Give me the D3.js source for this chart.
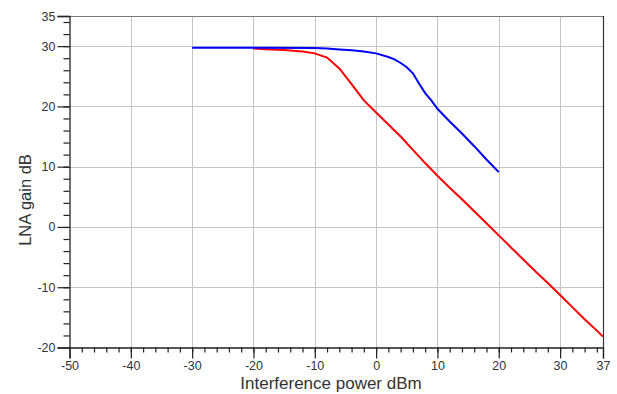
<!DOCTYPE html>
<html>
<head>
<meta charset="utf-8">
<script src="https://cdn.jsdelivr.net/npm/d3@7"></script>
<style>
  body { margin: 0; background: #fff; }
  svg { display: block; font-family: "Liberation Sans", Arial, sans-serif; }
</style>
</head>
<body>
<svg id="chart" width="617" height="394"></svg>
<script>
// interference power (dBm) vs LNA gain (dB)
const blueX = [-30, -20, -10, -8, -6, -4, -2, 0, 2, 3, 4, 5, 6, 7, 8, 9, 10, 12, 14, 16, 18, 20];
const blueY = [29.75, 29.75, 29.7, 29.6, 29.45, 29.3, 29.1, 28.8, 28.2, 27.8, 27.2, 26.5, 25.5, 23.8, 22.2, 21.0, 19.6, 17.5, 15.5, 13.4, 11.2, 9.1];
const redX = [-20, -18, -15, -12, -10, -8, -6, -4, -2, 0, 2, 4, 6, 8, 10, 12, 14, 16, 18, 20, 22, 24, 26, 28, 30, 32, 34, 36, 37];
const redY = [29.6, 29.5, 29.35, 29.1, 28.8, 28.1, 26.3, 23.7, 21.0, 19.0, 17.0, 15.0, 12.8, 10.6, 8.5, 6.5, 4.6, 2.6, 0.6, -1.4, -3.4, -5.4, -7.4, -9.3, -11.3, -13.3, -15.3, -17.2, -18.2];
const xTicks = [-50, -40, -30, -20, -10, 0, 10, 20, 30, 37];
const yTicks = [35, 30, 20, 10, 0, -10, -20];
const xGrid = [-40, -30, -20, -10, 0, 10, 20, 30];
const yGrid = [30, 20, 10, 0, -10];

const svg = d3.select('#chart');
const m = { left: 69.5, right: 603, top: 16, bottom: 347.5 };

const x = d3.scaleLinear().domain([-50, 37]).range([m.left, m.right]);
const y = d3.scaleLinear().domain([-20, 35]).range([m.bottom, m.top]);
const fmt = d => String(d);

// grid
svg.append('g').selectAll('line').data(xGrid).join('line')
    .attr('x1', d => Math.round(x(d)) + 0.5).attr('x2', d => Math.round(x(d)) + 0.5)
    .attr('y1', m.top).attr('y2', m.bottom)
    .attr('stroke', '#c4c4c4').attr('stroke-width', 1);
svg.append('g').selectAll('line').data(yGrid).join('line')
    .attr('y1', d => Math.round(y(d)) + 0.5).attr('y2', d => Math.round(y(d)) + 0.5)
    .attr('x1', m.left).attr('x2', m.right)
    .attr('stroke', '#c4c4c4').attr('stroke-width', 1);

// frame top / right
svg.append('line').attr('x1', m.left).attr('x2', m.right).attr('y1', m.top + 0.5).attr('y2', m.top + 0.5)
    .attr('stroke', '#7a7a7a').attr('stroke-width', 1.2);
svg.append('line').attr('x1', m.right + 0.5).attr('x2', m.right + 0.5).attr('y1', m.top).attr('y2', m.bottom)
    .attr('stroke', '#333').attr('stroke-width', 1.2);

// x axis
svg.append('g').attr('transform', `translate(0,${m.bottom})`)
    .call(d3.axisBottom(x).tickValues(xTicks).tickSize(11).tickPadding(3).tickFormat(fmt));
svg.append('g').attr('transform', `translate(0,${m.bottom})`)
    .call(d3.axisBottom(x).tickValues(d3.range(-48, 37, 2)).tickSize(5).tickFormat(''))
    .select('.domain').remove();

// y axis
svg.append('g').attr('transform', `translate(${m.left},0)`)
    .call(d3.axisLeft(y).tickValues(yTicks).tickSize(12).tickPadding(2).tickFormat(fmt));
svg.append('g').attr('transform', `translate(${m.left},0)`)
    .call(d3.axisLeft(y).tickValues(d3.range(-18, 35, 2)).tickSize(6).tickFormat(''))
    .select('.domain').remove();

svg.selectAll('.domain').attr('stroke', '#222').attr('stroke-width', 1.3);
svg.selectAll('.tick line').attr('stroke', '#222').attr('stroke-width', 1.2);
svg.selectAll('.tick text').attr('fill', '#333').style('font-size', '12.5px');

// lines
const line = d3.line().x(d => x(d[0])).y(d => y(d[1]));
svg.append('path').datum(d3.zip(redX, redY))
    .attr('fill', 'none').attr('stroke', '#ff0000').attr('stroke-width', 2).attr('d', line);
svg.append('path').datum(d3.zip(blueX, blueY))
    .attr('fill', 'none').attr('stroke', '#0000ff').attr('stroke-width', 2).attr('d', line);

// titles
svg.append('text').attr('x', 331).attr('y', 389).attr('text-anchor', 'middle')
    .attr('fill', '#333').style('font-size', '17px').text('Interference power dBm');
svg.append('text').attr('transform', 'translate(31,200) rotate(-90)').attr('text-anchor', 'middle')
    .attr('fill', '#333').style('font-size', '16.5px').text('LNA gain dB');
</script>
</body>
</html>
